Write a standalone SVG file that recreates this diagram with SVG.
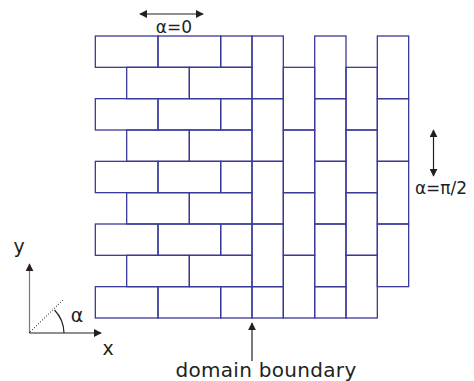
<svg xmlns="http://www.w3.org/2000/svg" width="474" height="381" viewBox="0 0 474 381">
<defs>
<style>
.b{fill:none;stroke:#3a3a98;stroke-width:1.3}
.t{font-family:"DejaVu Sans","Liberation Sans",sans-serif;fill:#231f20}
.a{stroke:#231f20;stroke-width:1.2;fill:none}
</style>
<marker id="ah" viewBox="0 0 10 10" refX="9" refY="5" markerWidth="8" markerHeight="8" markerUnits="userSpaceOnUse" orient="auto-start-reverse">
<path d="M0,0 L10,5 L0,10 z" fill="#231f20"/>
</marker>
</defs>
<rect width="474" height="381" fill="#fff"/>
<g id="horizontal-bricks">
<rect class="b" x="95.33" y="36" width="62.67" height="31.33"/>
<rect class="b" x="158" y="36" width="62.67" height="31.33"/>
<rect class="b" x="220.67" y="36" width="31.33" height="31.33"/>
<rect class="b" x="126.67" y="67.33" width="62.67" height="31.33"/>
<rect class="b" x="189.33" y="67.33" width="62.67" height="31.33"/>
<rect class="b" x="95.33" y="98.67" width="62.67" height="31.33"/>
<rect class="b" x="158" y="98.67" width="62.67" height="31.33"/>
<rect class="b" x="220.67" y="98.67" width="31.33" height="31.33"/>
<rect class="b" x="126.67" y="130" width="62.67" height="31.33"/>
<rect class="b" x="189.33" y="130" width="62.67" height="31.33"/>
<rect class="b" x="95.33" y="161.33" width="62.67" height="31.33"/>
<rect class="b" x="158" y="161.33" width="62.67" height="31.33"/>
<rect class="b" x="220.67" y="161.33" width="31.33" height="31.33"/>
<rect class="b" x="126.67" y="192.67" width="62.67" height="31.33"/>
<rect class="b" x="189.33" y="192.67" width="62.67" height="31.33"/>
<rect class="b" x="95.33" y="224" width="62.67" height="31.33"/>
<rect class="b" x="158" y="224" width="62.67" height="31.33"/>
<rect class="b" x="220.67" y="224" width="31.33" height="31.33"/>
<rect class="b" x="126.67" y="255.33" width="62.67" height="31.33"/>
<rect class="b" x="189.33" y="255.33" width="62.67" height="31.33"/>
<rect class="b" x="95.33" y="286.67" width="62.67" height="31.33"/>
<rect class="b" x="158" y="286.67" width="62.67" height="31.33"/>
<rect class="b" x="220.67" y="286.67" width="31.33" height="31.33"/>
</g>
<g id="vertical-bricks">
<rect class="b" x="252" y="36" width="31.33" height="62.67"/>
<rect class="b" x="252" y="98.67" width="31.33" height="62.67"/>
<rect class="b" x="252" y="161.33" width="31.33" height="62.67"/>
<rect class="b" x="252" y="224" width="31.33" height="62.67"/>
<rect class="b" x="252" y="286.67" width="31.33" height="31.33"/>
<rect class="b" x="283.33" y="67.33" width="31.33" height="62.67"/>
<rect class="b" x="283.33" y="130" width="31.33" height="62.67"/>
<rect class="b" x="283.33" y="192.67" width="31.33" height="62.67"/>
<rect class="b" x="283.33" y="255.33" width="31.33" height="62.67"/>
<rect class="b" x="314.67" y="36" width="31.33" height="62.67"/>
<rect class="b" x="314.67" y="98.67" width="31.33" height="62.67"/>
<rect class="b" x="314.67" y="161.33" width="31.33" height="62.67"/>
<rect class="b" x="314.67" y="224" width="31.33" height="62.67"/>
<rect class="b" x="314.67" y="286.67" width="31.33" height="31.33"/>
<rect class="b" x="346" y="67.33" width="31.33" height="62.67"/>
<rect class="b" x="346" y="130" width="31.33" height="62.67"/>
<rect class="b" x="346" y="192.67" width="31.33" height="62.67"/>
<rect class="b" x="346" y="255.33" width="31.33" height="62.67"/>
<rect class="b" x="377.33" y="36" width="31.33" height="62.67"/>
<rect class="b" x="377.33" y="98.67" width="31.33" height="62.67"/>
<rect class="b" x="377.33" y="161.33" width="31.33" height="62.67"/>
<rect class="b" x="377.33" y="224" width="31.33" height="62.67"/>
</g>
<g id="connectors">
<line class="a" x1="140" y1="14" x2="203" y2="14" marker-start="url(#ah)" marker-end="url(#ah)"/>
<line class="a" x1="433.5" y1="130" x2="433.5" y2="176" marker-start="url(#ah)" marker-end="url(#ah)"/>
<line class="a" x1="252" y1="361" x2="252" y2="323" marker-end="url(#ah)"/>
</g>
<g id="axes">
<line x1="29.5" y1="333" x2="29.5" y2="264" stroke="#777" stroke-width="1.2" marker-end="url(#ah)"/>
<line x1="29" y1="333" x2="101" y2="333" stroke="#231f20" stroke-width="1.2" marker-end="url(#ah)"/>
<line x1="30" y1="332" x2="63" y2="300" stroke="#231f20" stroke-width="1" stroke-dasharray="1.2,1.6"/>
<path d="M54.5,310 A34,34 0 0 1 64,333" class="a"/>
</g>
<g id="labels">
<text class="t" x="174" y="33" font-size="17" text-anchor="middle">α=0</text>
<text class="t" x="441" y="194" font-size="17" text-anchor="middle">α=π/2</text>
<text class="t" x="266" y="377" font-size="20" text-anchor="middle" letter-spacing="0.3">domain boundary</text>
<text class="t" x="19" y="253" font-size="19" text-anchor="middle">y</text>
<text class="t" x="108" y="355" font-size="19" text-anchor="middle">x</text>
<text class="t" x="77" y="322" font-size="19" text-anchor="middle">α</text>
</g>
</svg>
